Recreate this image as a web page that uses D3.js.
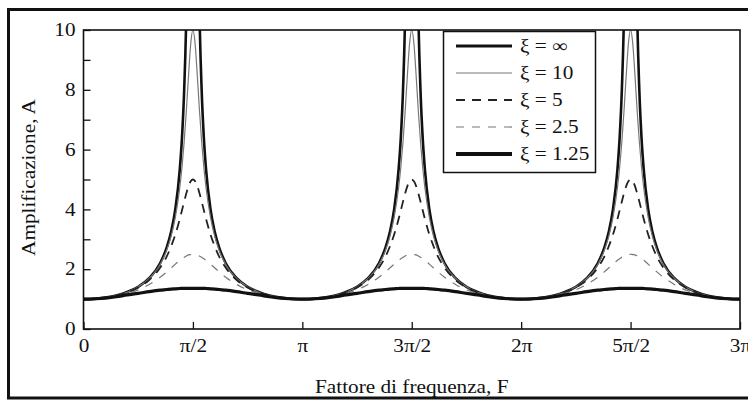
<!DOCTYPE html>
<html>
<head>
<meta charset="utf-8">
<script src="https://cdn.jsdelivr.net/npm/d3@7"></script>
<style>
  html, body { margin: 0; padding: 0; background: #fff; }
  svg { display: block; }
  text { font-family: "Liberation Serif", "Times New Roman", serif; fill: #111; }
</style>
</head>
<body>
<svg id="chart" width="748" height="400"></svg>
<script>
// Frequency factor F, in multiples of π
const freqOverPi = [
  0, 0.05, 0.1, 0.15, 0.2, 0.25, 0.3, 0.35, 0.38, 0.4, 0.42, 0.44, 0.45, 0.46, 0.47, 0.48, 0.49,
  0.5, 0.51, 0.52, 0.53, 0.54, 0.55, 0.56, 0.58, 0.6, 0.62, 0.65, 0.7, 0.75, 0.8, 0.85, 0.9, 0.95,
  1, 1.05, 1.1, 1.15, 1.2, 1.25, 1.3, 1.35, 1.38, 1.4, 1.42, 1.44, 1.45, 1.46, 1.47, 1.48, 1.49,
  1.5, 1.51, 1.52, 1.53, 1.54, 1.55, 1.56, 1.58, 1.6, 1.62, 1.65, 1.7, 1.75, 1.8, 1.85, 1.9, 1.95,
  2, 2.05, 2.1, 2.15, 2.2, 2.25, 2.3, 2.35, 2.38, 2.4, 2.42, 2.44, 2.45, 2.46, 2.47, 2.48, 2.49,
  2.5, 2.51, 2.52, 2.53, 2.54, 2.55, 2.56, 2.58, 2.6, 2.62, 2.65, 2.7, 2.75, 2.8, 2.85, 2.9, 2.95,
  3
];

// Amplification A for each ξ (values above 10 run off the top of the plot)
const ampInf = [
  1.00, 1.01, 1.05, 1.12, 1.24, 1.41, 1.70, 2.20, 2.72, 3.24, 4.02, 5.34, 6.39, 7.98, 10.6, 15.9, 31.8,
  100, 31.8, 15.9, 10.6, 7.98, 6.39, 5.34, 4.02, 3.24, 2.72, 2.20, 1.70, 1.41, 1.24, 1.12, 1.05, 1.01,
  1.00, 1.01, 1.05, 1.12, 1.24, 1.41, 1.70, 2.20, 2.72, 3.24, 4.02, 5.34, 6.39, 7.98, 10.6, 15.9, 31.8,
  100, 31.8, 15.9, 10.6, 7.98, 6.39, 5.34, 4.02, 3.24, 2.72, 2.20, 1.70, 1.41, 1.24, 1.12, 1.05, 1.01,
  1.00, 1.01, 1.05, 1.12, 1.24, 1.41, 1.70, 2.20, 2.72, 3.24, 4.02, 5.34, 6.39, 7.98, 10.6, 15.9, 31.8,
  100, 31.8, 15.9, 10.6, 7.98, 6.39, 5.34, 4.02, 3.24, 2.72, 2.20, 1.70, 1.41, 1.24, 1.12, 1.05, 1.01,
  1.00
];
const amp10 = [
  1.00, 1.01, 1.05, 1.12, 1.23, 1.41, 1.69, 2.16, 2.63, 3.09, 3.75, 4.73, 5.40, 6.26, 7.30, 8.48, 9.54,
  10.0, 9.54, 8.48, 7.30, 6.26, 5.40, 4.73, 3.75, 3.09, 2.63, 2.16, 1.69, 1.41, 1.23, 1.12, 1.05, 1.01,
  1.00, 1.01, 1.05, 1.12, 1.23, 1.41, 1.69, 2.16, 2.63, 3.09, 3.75, 4.73, 5.40, 6.26, 7.30, 8.48, 9.54,
  10.0, 9.54, 8.48, 7.30, 6.26, 5.40, 4.73, 3.75, 3.09, 2.63, 2.16, 1.69, 1.41, 1.23, 1.12, 1.05, 1.01,
  1.00, 1.01, 1.05, 1.12, 1.23, 1.41, 1.69, 2.16, 2.63, 3.09, 3.75, 4.73, 5.40, 6.26, 7.30, 8.48, 9.54,
  10.0, 9.54, 8.48, 7.30, 6.26, 5.40, 4.73, 3.75, 3.09, 2.63, 2.16, 1.69, 1.41, 1.23, 1.12, 1.05, 1.01,
  1.00
];
const amp5 = [
  1.00, 1.01, 1.05, 1.12, 1.22, 1.39, 1.64, 2.05, 2.42, 2.76, 3.17, 3.68, 3.97, 4.26, 4.54, 4.78, 4.94,
  5.00, 4.94, 4.78, 4.54, 4.26, 3.97, 3.68, 3.17, 2.76, 2.42, 2.05, 1.64, 1.39, 1.22, 1.12, 1.05, 1.01,
  1.00, 1.01, 1.05, 1.12, 1.22, 1.39, 1.64, 2.05, 2.42, 2.76, 3.17, 3.68, 3.97, 4.26, 4.54, 4.78, 4.94,
  5.00, 4.94, 4.78, 4.54, 4.26, 3.97, 3.68, 3.17, 2.76, 2.42, 2.05, 1.64, 1.39, 1.22, 1.12, 1.05, 1.01,
  1.00, 1.01, 1.05, 1.12, 1.22, 1.39, 1.64, 2.05, 2.42, 2.76, 3.17, 3.68, 3.97, 4.26, 4.54, 4.78, 4.94,
  5.00, 4.94, 4.78, 4.54, 4.26, 3.97, 3.68, 3.17, 2.76, 2.42, 2.05, 1.64, 1.39, 1.22, 1.12, 1.05, 1.01,
  1.00
];
const amp25 = [
  1.00, 1.01, 1.04, 1.10, 1.19, 1.31, 1.49, 1.73, 1.91, 2.04, 2.17, 2.30, 2.35, 2.40, 2.44, 2.48, 2.49,
  2.50, 2.49, 2.48, 2.44, 2.40, 2.35, 2.30, 2.17, 2.04, 1.91, 1.73, 1.49, 1.31, 1.19, 1.10, 1.04, 1.01,
  1.00, 1.01, 1.04, 1.10, 1.19, 1.31, 1.49, 1.73, 1.91, 2.04, 2.17, 2.30, 2.35, 2.40, 2.44, 2.48, 2.49,
  2.50, 2.49, 2.48, 2.44, 2.40, 2.35, 2.30, 2.17, 2.04, 1.91, 1.73, 1.49, 1.31, 1.19, 1.10, 1.04, 1.01,
  1.00, 1.01, 1.04, 1.10, 1.19, 1.31, 1.49, 1.73, 1.91, 2.04, 2.17, 2.30, 2.35, 2.40, 2.44, 2.48, 2.49,
  2.50, 2.49, 2.48, 2.44, 2.40, 2.35, 2.30, 2.17, 2.04, 1.91, 1.73, 1.49, 1.31, 1.19, 1.10, 1.04, 1.01,
  1.00
];
const amp125 = [
  1.00, 1.01, 1.03, 1.08, 1.14, 1.19, 1.25, 1.30, 1.32, 1.335, 1.345, 1.355, 1.36, 1.36, 1.36, 1.36, 1.36,
  1.36, 1.36, 1.36, 1.36, 1.36, 1.36, 1.355, 1.345, 1.335, 1.32, 1.30, 1.25, 1.19, 1.14, 1.08, 1.03, 1.01,
  1.00, 1.01, 1.03, 1.08, 1.14, 1.19, 1.25, 1.30, 1.32, 1.335, 1.345, 1.355, 1.36, 1.36, 1.36, 1.36, 1.36,
  1.36, 1.36, 1.36, 1.36, 1.36, 1.36, 1.355, 1.345, 1.335, 1.32, 1.30, 1.25, 1.19, 1.14, 1.08, 1.03, 1.01,
  1.00, 1.01, 1.03, 1.08, 1.14, 1.19, 1.25, 1.30, 1.32, 1.335, 1.345, 1.355, 1.36, 1.36, 1.36, 1.36, 1.36,
  1.36, 1.36, 1.36, 1.36, 1.36, 1.36, 1.355, 1.345, 1.335, 1.32, 1.30, 1.25, 1.19, 1.14, 1.08, 1.03, 1.01,
  1.00
];

const seriesLabels = ["ξ = ∞", "ξ = 10", "ξ = 5", "ξ = 2.5", "ξ = 1.25"];
const xTickValues = [0, 0.5, 1, 1.5, 2, 2.5, 3];
const xTickLabels = ["0", "π/2", "π", "3π/2", "2π", "5π/2", "3π"];
const yTickValues = [0, 1, 2, 3, 4, 5, 6, 7, 8, 9, 10];
const xTitle = "Fattore di frequenza, F";
const yTitle = "Amplificazione, A";

const seriesValues = [ampInf, amp10, amp5, amp25, amp125];
const styles = [
  { stroke: "#111", width: 2.6, dash: null },
  { stroke: "#777", width: 1.2, dash: null },
  { stroke: "#222", width: 1.8, dash: "9,7" },
  { stroke: "#777", width: 1.2, dash: "8,8" },
  { stroke: "#111", width: 3.2, dash: null }
];

const svg = d3.select("#chart");
const plot = { left: 83.5, right: 740, top: 30, bottom: 329 };

const x = d3.scaleLinear().domain([0, 3]).range([plot.left, plot.right]);
const y = d3.scaleLinear().domain([0, 10]).range([plot.bottom, plot.top]);

// Outer frame
svg.append("rect")
  .attr("x", 8.5).attr("y", 9.5)
  .attr("width", 746).attr("height", 388.5)
  .attr("fill", "none").attr("stroke", "#111").attr("stroke-width", 3);

svg.append("clipPath").attr("id", "plot-clip")
  .append("rect")
  .attr("x", plot.left).attr("y", plot.top)
  .attr("width", plot.right - plot.left).attr("height", plot.bottom - plot.top);

// Curves
const line = d3.line()
  .x(d => x(d[0]))
  .y(d => y(d[1]))
  .curve(d3.curveMonotoneX);

const curves = svg.append("g").attr("clip-path", "url(#plot-clip)");
seriesValues.forEach((vals, i) => {
  const pts = freqOverPi.map((f, j) => [f, vals[j]]);
  curves.append("path")
    .attr("d", line(pts))
    .attr("fill", "none")
    .attr("stroke", styles[i].stroke)
    .attr("stroke-width", styles[i].width)
    .attr("stroke-dasharray", styles[i].dash)
    .attr("stroke-linejoin", "round");
});

// Axes
const fontSize = 18;
const yAxis = d3.axisLeft(y)
  .tickValues(yTickValues)
  .tickSize(-7)
  .tickSizeOuter(0)
  .tickPadding(8)
  .tickFormat(d => (d % 2 === 0 ? String(d) : ""));
const gy = svg.append("g").attr("transform", `translate(${plot.left},0)`).call(yAxis);

const xAxis = d3.axisBottom(x)
  .tickValues(xTickValues)
  .tickSize(-7)
  .tickSizeOuter(0)
  .tickPadding(10)
  .tickFormat((d, i) => xTickLabels[i]);
const gx = svg.append("g").attr("transform", `translate(0,${plot.bottom})`).call(xAxis);

[gx, gy].forEach(g => {
  g.select(".domain").remove();
  g.selectAll(".tick line").attr("stroke", "#111").attr("stroke-width", 1.3);
  g.selectAll(".tick text")
    .attr("font-family", "Liberation Serif, serif")
    .attr("font-size", fontSize)
    .attr("fill", "#111");
});

// Plot box
svg.append("rect")
  .attr("x", plot.left).attr("y", plot.top)
  .attr("width", plot.right - plot.left).attr("height", plot.bottom - plot.top)
  .attr("fill", "none").attr("stroke", "#111").attr("stroke-width", 1.6);

// Axis titles
svg.append("text")
  .attr("x", (plot.left + plot.right) / 2)
  .attr("y", 393)
  .attr("text-anchor", "middle")
  .attr("font-size", fontSize)
  .text(xTitle);

svg.append("text")
  .attr("transform", `translate(35,${(plot.top + plot.bottom) / 2 - 2}) rotate(-90)`)
  .attr("text-anchor", "middle")
  .attr("font-size", fontSize)
  .text(yTitle);

// Legend
const legend = svg.append("g");
legend.append("rect")
  .attr("x", 443.5).attr("y", 31.5)
  .attr("width", 152).attr("height", 141)
  .attr("fill", "#fff").attr("stroke", "#111").attr("stroke-width", 1.5);

seriesLabels.forEach((lab, i) => {
  const cy = 46 + i * 27;
  legend.append("line")
    .attr("x1", 456).attr("x2", 512)
    .attr("y1", cy).attr("y2", cy)
    .attr("stroke", styles[i].stroke)
    .attr("stroke-width", i === 4 ? 3.8 : styles[i].width + (i === 0 ? 0.4 : 0))
    .attr("stroke-dasharray", styles[i].dash);
  legend.append("text")
    .attr("x", 520).attr("y", cy + 6)
    .attr("font-size", fontSize)
    .text(lab);
});

// Widen all glyph runs slightly for the broad serif face
svg.selectAll("text").each(function () {
  const w = this.getComputedTextLength();
  if (w > 0) {
    this.setAttribute("textLength", (w * 1.18).toFixed(1));
    this.setAttribute("lengthAdjust", "spacingAndGlyphs");
  }
});
</script>
</body>
</html>
